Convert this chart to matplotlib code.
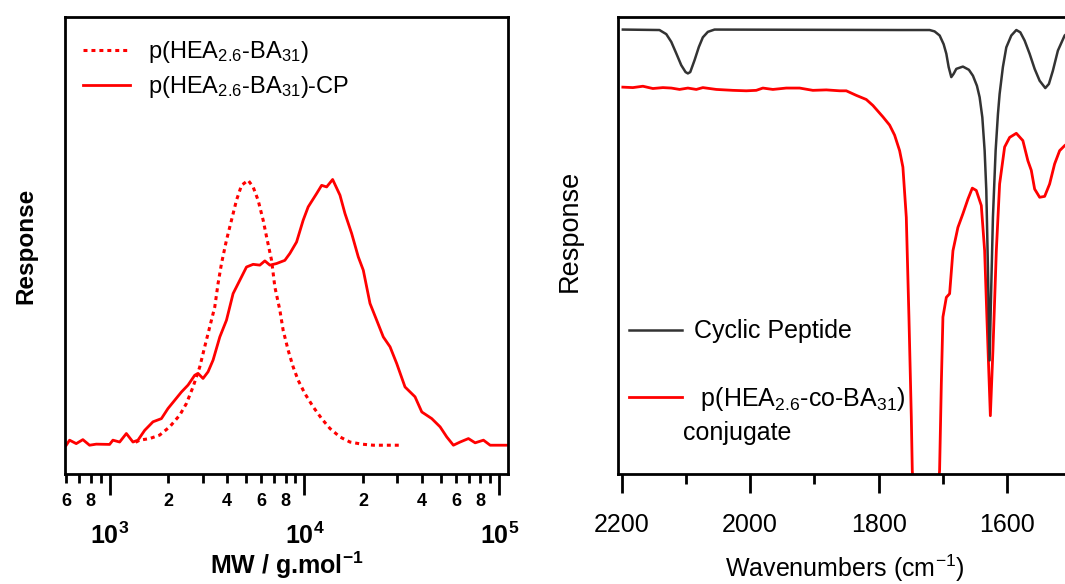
import matplotlib
matplotlib.use('Agg')
import matplotlib.pyplot as plt
import numpy as np
from matplotlib.ticker import LogLocator, FuncFormatter, MultipleLocator

plt.rcParams['font.family'] = 'Liberation Sans'
plt.rcParams['mathtext.fontset'] = 'custom'
plt.rcParams['mathtext.rm'] = 'Liberation Sans'
plt.rcParams['mathtext.bf'] = 'Liberation Sans:bold'
plt.rcParams['mathtext.default'] = 'regular'

# GPC traces: MW (g/mol) vs normalised response (%)
mw_polymer = [1361, 1427, 1606, 1807, 2034, 2291, 2480, 2681, 2902, 3078, 3267, 3467,
              3605, 3753, 3981, 4224, 4481, 4755, 5142, 5455, 5787, 6142, 6396, 6785,
              7053, 7482, 7780, 8255, 8760, 9292, 10060, 11099, 12260, 13525, 15229,
              17134, 19685, 22584, 27524, 30970]
resp_polymer = [1.1, 1.9, 2.5, 3.8, 6.9, 11.3, 15.7, 21.9, 29.4, 37.0, 44.5, 52.0,
                60.8, 68.3, 77.1, 84.6, 92.1, 97.7, 99.6, 97.1, 92.1, 84.6, 78.3, 69.5,
                59.5, 50.8, 43.2, 35.7, 29.4, 24.4, 19.4, 14.4, 10.0, 6.3, 3.1,
                1.2, 0.4, 0.0, 0.0, 0.0]

mw_conjugate = [599, 623, 674, 729, 789, 854, 1000, 1040, 1126, 1219, 1318, 1398,
                1514, 1670, 1845, 1994, 2159, 2337, 2527, 2735, 2844, 3018, 3202, 3398,
                3679, 3981, 4305, 4660, 5044, 5455, 5905, 6267, 6650, 7194, 7937, 8422,
                9118, 9858, 10459, 11553, 12260, 13009, 13964, 15229, 16156, 17486,
                18909, 20063, 21720, 23503, 25418, 27524, 29785, 32854, 36980, 40060,
                45080, 49750, 53830, 58210, 63024, 69530, 75270, 83050, 89890, 113900]
resp_conjugate = [0.0, 1.9, 0.6, 2.1, 0.0, 0.4, 0.3, 1.9, 1.2, 4.4, 1.2, 1.9,
                  5.6, 8.8, 10.0, 13.8, 16.9, 20.0, 22.6, 26.3, 27.0, 25.1, 27.6, 32.0,
                  40.7, 47.0, 57.0, 62.0, 67.0, 68.0, 67.7, 69.3, 67.7, 68.3, 69.5, 72.1,
                  76.4, 84.6, 89.6, 94.6, 97.7, 97.1, 99.9, 94.0, 87.1, 79.6,
                  70.8, 65.8, 53.3, 47.0, 40.7, 37.0, 30.7, 21.9, 18.2, 12.5,
                  10.0, 6.9, 3.1, 0.0, 1.2, 2.5, 0.9, 1.9, 0.0, 0.0]

# FTIR spectra: wavenumber (cm-1) vs response (a.u.)
wn_peptide = [2198, 2141, 2130.4, 2122.6, 2114.9, 2107.1, 2100.4, 2096.8, 2093.1, 2086.4,
              2079.7, 2073.5, 2065.7, 2055.3, 1767, 1720.6, 1712.9, 1705, 1698.8, 1694.6,
              1691, 1686.9, 1683.3, 1679.1, 1668.8, 1659.5, 1653.2, 1647, 1642.8, 1638.6,
              1635, 1632.4, 1629.9, 1627.3, 1624.6, 1622.1, 1617.9, 1614.3, 1611.7, 1606.6,
              1601.3, 1593.5, 1585.7, 1579.5, 1572.8, 1565, 1557.2, 1549.4, 1540.6, 1535,
              1528.8, 1521, 1510.5, 1500]
ir_peptide = [97.3, 97.2, 96.3, 94.6, 92.1, 89.5, 88.0, 87.7, 88.0, 90.6,
              93.5, 95.6, 96.8, 97.3, 97.2, 97.2, 96.9, 96.0, 94.1, 92.0,
              89.1, 86.9, 87.6, 88.7, 89.2, 88.5, 87.2, 85.0, 82.5, 78.1,
              70.8, 62.1, 45.3, 24.9, 41.6, 56.2, 70.8, 78.8, 83.2, 89.1,
              93.4, 96.0, 97.2, 96.7, 94.9, 92.0, 88.7, 86.1, 84.5, 85.4,
              88.3, 92.7, 96.0, 97.3]

wn_conjugate = [2198, 2182.4, 2166.8, 2151.3, 2135.7, 2122.6, 2109.7, 2096.8, 2083.7,
                2073.5, 2052.6, 2026.8, 2005.9, 1990.4, 1980.1, 1964.5, 1943.7, 1922.9,
                1902.3, 1881.4, 1860.7, 1850.3, 1834.7, 1819.2, 1808.9, 1793.3, 1782.9,
                1775.1, 1767.3, 1762.2, 1756.9, 1752.8, 1749.1, 1747.6, 1727, 1705.1,
                1702.4, 1699.9, 1694.6, 1689.5, 1684.3, 1676.6, 1668.8, 1661, 1654.2,
                1648, 1640.2, 1635, 1631.5, 1626.1, 1622.1, 1616.8, 1611.7, 1603.9,
                1596.1, 1585.7, 1575.5, 1567.7, 1562.4, 1557.2, 1549.4, 1541.6, 1533.9,
                1526.1, 1518.3, 1510.5, 1500]
ir_conjugate = [84.7, 84.6, 84.9, 84.4, 84.6, 84.5, 84.2, 84.5, 84.2,
                84.6, 84.2, 84.0, 83.9, 84.0, 84.5, 84.2, 84.5, 84.5,
                84.0, 84.1, 83.9, 83.9, 82.9, 82.0, 80.7, 78.2, 76.4,
                74.2, 70.8, 67.2, 56.2, 34.4, 12.5, 0.8, -40.0, 0.8,
                19.8, 34.4, 38.7, 39.5, 48.9, 54.0, 57.0, 60.2, 62.6,
                62.1, 58.8, 48.9, 34.4, 12.8, 27.1, 48.9, 63.5, 71.6,
                73.7, 74.6, 73.0, 68.6, 66.5, 62.4, 60.6, 60.8, 63.5,
                67.9, 70.8, 71.9, 73.0]

RED = '#ff0000'
GREY = '#333333'

fig = plt.figure(figsize=(10.65, 5.84), dpi=100)
ax1 = fig.add_axes([0.061, 0.188, 0.416, 0.7825])
ax2 = fig.add_axes([0.580, 0.188, 0.426, 0.7825])

# --- left: GPC ---
l1, = ax1.plot(mw_polymer, resp_polymer, color=RED, lw=2.2, ls=(0, (1.3, 1.3)))
l2, = ax1.plot(mw_conjugate, resp_conjugate, color=RED, lw=2.0)
ax1.set_xscale('log')
ax1.set_xlim(590, 111000)
ax1.set_ylim(-10.9, 160.9)
ax1.set_yticks([])

ax1.xaxis.set_major_locator(LogLocator(base=10, numticks=10))
ax1.xaxis.set_minor_locator(LogLocator(base=10, subs=np.arange(2, 10), numticks=20))


def minor_label(x, pos):
    d = int(round(x / 10 ** np.floor(np.log10(x) + 1e-9)))
    return str(d) if d in (2, 4, 6, 8) else ''


ax1.xaxis.set_major_formatter(FuncFormatter(lambda x, pos: r'$\mathbf{10^{%d}}$' % round(np.log10(x))))
ax1.xaxis.set_minor_formatter(FuncFormatter(minor_label))
ax1.tick_params(axis='x', which='major', direction='out', length=15, width=2, pad=20, labelsize=18)
ax1.tick_params(axis='x', which='minor', direction='out', length=6.5, width=2, pad=7, labelsize=13)
for lab in ax1.get_xticklabels(which='minor'):
    lab.set_fontweight('bold')
for s in ax1.spines.values():
    s.set_linewidth(2)

ax1.set_xlabel(r'MW / g.mol$\mathbf{^{-1}}$', fontsize=18, fontweight='bold', labelpad=0)
ax1.set_ylabel('Response', fontsize=17.5, fontweight='bold', labelpad=20)
ax1.legend([l1, l2], [r'p(HEA$_{2.6}$-BA$_{31}$)', r'p(HEA$_{2.6}$-BA$_{31}$)-CP'],
           loc='upper left', bbox_to_anchor=(0.041, 0.952), borderaxespad=0, borderpad=0,
           frameon=False, fontsize=17, handlelength=2.0, handletextpad=0.75, labelspacing=0.38)

# --- right: FTIR ---
ax2.plot(wn_conjugate, ir_conjugate, color=RED, lw=2.0, zorder=2)
ax2.plot(wn_peptide, ir_peptide, color=GREY, lw=1.8, zorder=3)
ax2.set_xlim(2206, 1500)
ax2.set_ylim(0, 100)
ax2.set_yticks([])
ax2.xaxis.set_major_locator(MultipleLocator(200))
ax2.xaxis.set_minor_locator(MultipleLocator(100))
ax2.tick_params(axis='x', which='major', direction='out', length=14, width=2, pad=14, labelsize=18)
ax2.tick_params(axis='x', which='minor', direction='out', length=7, width=2)
ax2.spines['right'].set_visible(False)
for s in ['left', 'top', 'bottom']:
    ax2.spines[s].set_linewidth(2)
ax2.set_xlabel(r'Wavenumbers (cm$^{-1}$)', fontsize=18, labelpad=11)
ax2.set_ylabel('Response', fontsize=19.5, labelpad=25, y=0.532)

h1, = ax2.plot([], [], color=GREY, lw=1.8)
h2, = ax2.plot([], [], color=RED, lw=2.0)
ax2.legend([h1, h2], ['Cyclic Peptide', r' p(HEA$_{2.6}$-co-BA$_{31}$)'],
           loc='upper left', bbox_to_anchor=(0.026, 0.339), borderaxespad=0, borderpad=0,
           frameon=False, fontsize=18, handlelength=2.1, handletextpad=0.5, labelspacing=1.65)
ax2.text(0.143, 0.0897, 'conjugate', transform=ax2.transAxes, fontsize=18, va='center', ha='left')

fig.savefig('out.png', dpi=100)
